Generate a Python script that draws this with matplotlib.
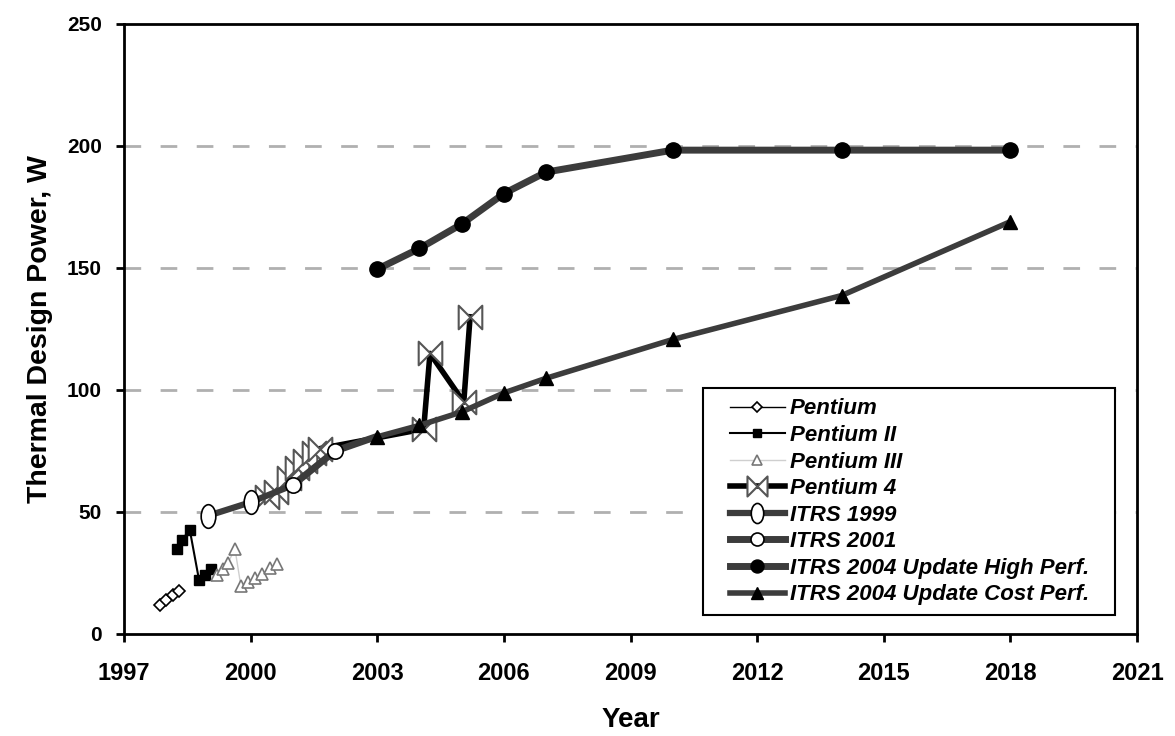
import numpy as np
import matplotlib
matplotlib.use("Agg")
import matplotlib.pyplot as plt
from matplotlib.path import Path
from matplotlib.transforms import Affine2D

# data
pentium_x = [1997.85, 1998.0, 1998.15, 1998.3]
pentium_y = [12, 14, 16, 17.6]

pentium2_x = [1998.25, 1998.37, 1998.56, 1998.78, 1998.92, 1999.06]
pentium2_y = [35, 38.5, 42.6, 22, 24, 26.6]

pentium3_x = [1999.2, 1999.35, 1999.46, 1999.63, 1999.77, 1999.94, 2000.1, 2000.27, 2000.46, 2000.63]
pentium3_y = [24.2, 26.6, 29.1, 34.8, 19.7, 21.3, 23, 24.6, 27, 28.7]

pentium4_x = [2000.4, 2000.6, 2000.9, 2001.1, 2001.3, 2001.5, 2001.65, 2004.1, 2004.25, 2005.05, 2005.2]
pentium4_y = [56, 58, 64, 68, 71, 74, 76, 84, 115, 95, 130]

itrs1999_x = [1999, 2000, 2001]
itrs1999_y = [48.5, 54, 61]

itrs2001_x = [2001, 2002, 2003]
itrs2001_y = [61, 75, 81]

hp_x = [2003, 2004, 2005, 2006, 2007, 2010, 2014, 2018]
hp_y = [149.5, 158, 168, 180.5, 189.3, 198.3, 198.3, 198.3]

cp_x = [2003, 2004, 2005, 2006, 2007, 2010, 2014, 2018]
cp_y = [80.8, 85.5, 91, 98.8, 104.8, 120.7, 138.7, 169]

year_ticks = [1997, 2000, 2003, 2006, 2009, 2012, 2015, 2018, 2021]
power_ticks = [0, 50, 100, 150, 200, 250]

plt.rcParams['font.family'] = ['Liberation Sans', 'DejaVu Sans']
plt.rcParams['font.weight'] = 'bold'

fig = plt.figure(figsize=(11.75, 7.36), dpi=100)
ax = fig.add_axes([0.1055, 0.1386, 0.8622, 0.8288])

# bowtie marker for Pentium 4
bowtie = Path([(-1, -1), (1, 1), (1, -1), (-1, 1), (-1, -1)],
              [Path.MOVETO, Path.LINETO, Path.LINETO, Path.LINETO, Path.CLOSEPOLY])
# tall ellipse for ITRS 1999
ellipse = Path.unit_circle().transformed(Affine2D().scale(0.62, 1.0))

dark = '#3c3c3c'

ax.plot(pentium_x, pentium_y, color='black', lw=1, marker='D', ms=6.5,
        mfc='white', mec='black', mew=1.2, label='Pentium', zorder=3)
ax.plot(pentium2_x, pentium2_y, color='black', lw=1.5, marker='s', ms=7.5,
        mfc='black', mec='black', label='Pentium II', zorder=3)
ax.plot(pentium3_x, pentium3_y, color='#cfcfcf', lw=1, marker='^', ms=9,
        mfc='white', mec='#777777', mew=1.2, label='Pentium III', zorder=3)
ax.plot(pentium4_x, pentium4_y, color='black', lw=4, marker=bowtie, ms=17,
        mfc='white', mec='#555555', mew=1.5, label='Pentium 4', zorder=4)
ax.plot(itrs1999_x, itrs1999_y, color=dark, lw=4.5, marker=ellipse, ms=17,
        mfc='white', mec='black', mew=1.2, markevery=[0, 1], label='ITRS 1999', zorder=5)
ax.plot(itrs2001_x, itrs2001_y, color=dark, lw=5, marker='o', ms=11,
        mfc='white', mec='black', mew=1.2, markevery=[0, 1], label='ITRS 2001', zorder=5)
ax.plot(hp_x, hp_y, color=dark, lw=5, marker='o', ms=11,
        mfc='black', mec='black', label='ITRS 2004 Update High Perf.', zorder=5)
ax.plot(cp_x, cp_y, color=dark, lw=4, marker='^', ms=10,
        mfc='black', mec='black', label='ITRS 2004 Update Cost Perf.', zorder=5)

ax.set_xlim(1997, 2021)
ax.set_ylim(0, 250)
ax.set_xticks(year_ticks)
ax.set_yticks(power_ticks)
for v in power_ticks[1:-1]:
    ax.axhline(v, color='#b0b0b0', lw=2, dashes=(6, 7), zorder=1)

for s in ax.spines.values():
    s.set_linewidth(2)
ax.tick_params(axis='both', direction='out', length=6, width=2)
ax.tick_params(axis='x', pad=14, labelsize=17)
ax.tick_params(axis='y', pad=10, labelsize=15)

ax.set_xlabel('Year', fontsize=20, fontweight='bold', labelpad=16)
ax.set_ylabel('Thermal Design Power, W', fontsize=20.5, fontweight='bold', labelpad=10)


def wide_box(x0, y0, width, height, mutation_size):
    # legend frame with extra room left and right only
    px = 0.75 * mutation_size
    return Path([(x0 - px, y0), (x0 + width + px, y0), (x0 + width + px, y0 + height),
                 (x0 - px, y0 + height), (x0 - px, y0)], closed=True)


leg = ax.legend(loc='lower right', bbox_to_anchor=(0.935, 0.164),
                bbox_transform=fig.transFigure, frameon=True, fancybox=False,
                edgecolor='black', framealpha=1, borderpad=0.45, borderaxespad=0,
                labelspacing=0.25, handlelength=2.5, handletextpad=0.2,
                markerscale=0.85,
                prop={'size': 16, 'style': 'italic', 'weight': 'bold'})
leg.get_frame().set_boxstyle(wide_box)
leg.get_frame().set_linewidth(1.5)
leg.set_zorder(10)

fig.savefig('out.png', dpi=100)
